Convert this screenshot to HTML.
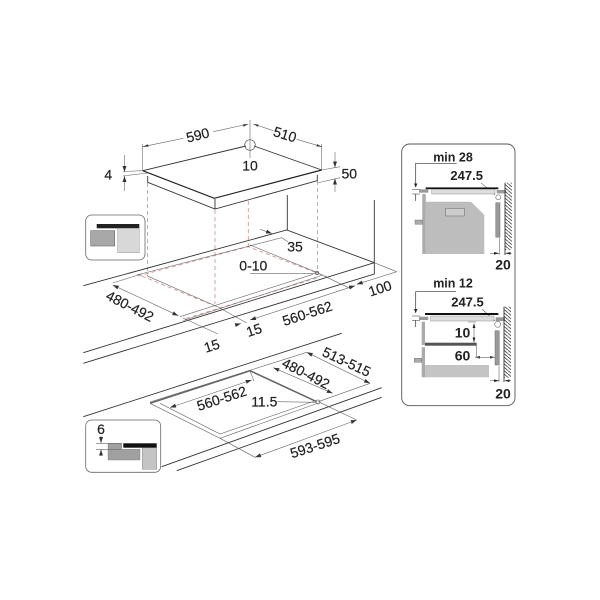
<!DOCTYPE html>
<html><head><meta charset="utf-8"><style>
html,body{margin:0;padding:0;background:#fff}
svg{display:block;width:600px;height:600px;filter:blur(.3px)}
text{font-family:"Liberation Sans",sans-serif;font-size:14px;fill:#222;stroke:#222;stroke-width:.2;text-anchor:middle;dominant-baseline:central}
.b{font-weight:bold;font-size:13px;dominant-baseline:auto;stroke-width:0}
.k{fill:none;stroke:#333;stroke-width:.9}
.t{fill:none;stroke:#666;stroke-width:.6}
.r{fill:none;stroke:#cf8c8c;stroke-width:.8;stroke-dasharray:4 3}
.a{marker-start:url(#s);marker-end:url(#e)}
.e{marker-end:url(#e)}
</style></head><body>
<svg viewBox="0 0 600 600" xmlns="http://www.w3.org/2000/svg">
<defs>
<marker id="e" markerWidth="7" markerHeight="5" refX="6" refY="2.5" orient="auto" markerUnits="userSpaceOnUse"><path d="M0 .5L6 2.5L0 4.5z" fill="#333"/></marker>
<marker id="s" markerWidth="7" markerHeight="5" refX="0" refY="2.5" orient="auto" markerUnits="userSpaceOnUse"><path d="M6 .5L0 2.5L6 4.5z" fill="#333"/></marker>
<pattern id="h" width="4" height="3.4" patternUnits="userSpaceOnUse"><path d="M0 0L4 3.4" stroke="#333" stroke-width=".8"/></pattern>
</defs>
<rect width="600" height="600" fill="#fff"/>

<!-- top hob -->
<path class="k" d="M142.7 170.7L246 146M254 146L321.7 170"/>
<path d="M142.7 170.7L214.3 198.3L321.7 170" fill="none" stroke="#222" stroke-width="1.2"/>
<path class="k" d="M147.7 176V182.3L215 209L317.3 180.7V175M215 199V209"/>
<circle cx="250" cy="145" r="5.3" fill="none" stroke="#555" stroke-width=".7"/>
<path class="t" d="M250 120V158M142.7 144V170M321.7 144V170"/>
<path class="t" d="M142.7 146.7L183.3 138.3M213.3 131.7L248.3 124M253.3 124L273.3 130.7M296.7 139.3L321.7 146.7"/>
<path d="M142.7 146.7L148 144.2L148.6 146.6ZM248.3 124L243 124.4L243.6 126.7ZM253.3 124L258.6 124.6L257.8 126.8ZM321.7 146.7L316.4 146.4L317 144.1Z" fill="#333"/>
<path class="t" d="M123 171.5L142.7 170.7M122.7 176L147.7 173"/>
<path class="t e" d="M124.5 155V172"/>
<path class="t e" d="M124.5 191V176"/>
<path class="t" d="M321.7 170L340 166.7M317.3 183L340 177.7"/>
<path class="t e" d="M335 152V167.5"/>
<path class="t e" d="M335 192V178.5"/>
<text x="197.7" y="135" transform="rotate(-14 197.7 135)">590</text>
<text x="285" y="134.3" transform="rotate(17 285 134.3)">510</text>
<text x="250" y="165.7">10</text>
<text x="108.3" y="174.3">4</text>
<text x="349.3" y="173.3">50</text>

<!-- dashed drops -->
<path class="r" d="M147.6 183V275M215 210V304M248.3 201V246.7M317.5 181V272.7"/>
<path class="r" d="M138 276L248.3 246.7L326.7 276.7M141.7 276L215 306M186 318.5L318.3 277.5"/>

<!-- counter top -->
<path class="k" d="M83.3 285.7L286.7 230L374.3 262.7M83.3 352.7L374.3 262.7M83.3 363.3L374.3 274V200M287.3 195V230"/>
<path class="t" d="M136.7 275L281.7 237.7L288 241.7"/>
<path class="t" d="M146.7 275.7L218 307M218 307L246.7 323M250 245L315 271.7L350 288.3"/>
<path class="t" d="M180 316.7L313 274.3M183.3 320.5L323 275M183 318L218 334M374.3 262.7L396.7 271.7M112.7 283L141.7 274"/>
<path class="t a" d="M112.7 285L178.3 315.7"/>
<path class="t a" d="M250 320L355 285.7"/>
<path class="t a" d="M356.7 284.3L396.7 271.7" style="marker-end:none"/>
<path class="t e" d="M260 229.3L272 233.5"/>
<path class="t e" d="M235.7 325L241 323.5"/>
<path class="t" d="M250 273.7H316.7"/>
<circle cx="317" cy="273" r="1.6" fill="none" stroke="#555" stroke-width=".7"/>
<text x="295" y="246.7">35</text>
<text x="253.3" y="265.7">0-10</text>
<text x="130" y="306" transform="rotate(27 130 306)">480-492</text>
<text x="307.3" y="313.3" transform="rotate(-18 307.3 313.3)">560-562</text>
<text x="380" y="288.3" transform="rotate(-18 380 288.3)">100</text>
<text x="254" y="330" transform="rotate(-18 254 330)">15</text>
<text x="211.7" y="345.7" transform="rotate(-18 211.7 345.7)">15</text>

<!-- lower counter -->
<path class="k" d="M83.3 416.7L341.7 333.3M161.7 466.7L381.7 387.7M176.7 470.7L381.7 397.3"/>
<path class="t" d="M150 403.3L220 438.3L318.3 403M160 403.3L220 434L316 400.5"/>
<path d="M150 403.3L250 370.7L316.7 401.7" fill="none" stroke="#666" stroke-width="1.6"/>
<path class="t" d="M150 402L306.7 352.3M318.3 401.7L370 383.3M220 438.3L255 457.3M318.3 401.7L356.7 420M250 371L254 381"/>
<path class="t a" d="M306.7 352.3L370 383.3"/>
<path class="t a" d="M273.3 367.7L332.7 393.3"/>
<path class="t a" d="M255 457.3L356.7 420"/>
<path class="t a" d="M170 407.5L251.7 380"/>
<path class="t" d="M277.3 401.7L316.7 402.3"/>
<circle cx="318" cy="402" r="2" fill="none" stroke="#777" stroke-width=".8"/>
<text x="346.7" y="361.7" transform="rotate(25 346.7 361.7)">513-515</text>
<text x="306" y="373.3" transform="rotate(27 306 373.3)">480-492</text>
<text x="221.7" y="398.3" transform="rotate(-18 221.7 398.3)">560-562</text>
<text x="264.3" y="401.7">11.5</text>
<text x="315" y="445.7" transform="rotate(-18 315 445.7)">593-595</text>

<!-- inset 1 -->
<rect x="85.7" y="215" width="59.3" height="45" rx="6" fill="#fff" stroke="#666" stroke-width=".8"/>
<rect x="96.7" y="224" width="42.6" height="4.3" fill="#222"/>
<rect x="90.7" y="230.7" width="24" height="15.3" fill="#a8a8a8" stroke="#666" stroke-width=".6"/>
<rect x="117.7" y="228.3" width="21.6" height="24.4" fill="#d8d8d8" stroke="#888" stroke-width=".4"/>

<!-- inset 2 -->
<rect x="85.7" y="420" width="75" height="52.3" rx="6" fill="#fff" stroke="#666" stroke-width=".8"/>
<rect x="123.3" y="443.3" width="33.4" height="4.4" fill="#111"/>
<path d="M108 443.3H121.7V449.3H140V460H108Z" fill="#a0a0a0" stroke="#777" stroke-width=".4"/>
<rect x="142.3" y="447.7" width="14.4" height="21.6" fill="#c4c4c4" stroke="#777" stroke-width=".4"/>
<path class="t" d="M96 443.3H121M96 449.3H121"/>
<path class="t e" d="M101 436V443"/>
<path class="t e" d="M101 456V449.6"/>
<text x="101" y="429">6</text>

<!-- side panel -->
<rect x="401.7" y="144" width="113.3" height="261.7" rx="8" fill="#fff" stroke="#555" stroke-width=".9"/>

<!-- upper section -->
<text class="b" x="453" y="161.7" style="font-size:12.5px">min 28</text>
<path class="k" d="M456.7 163.3H415.7V187" style="stroke-width:.7"/>
<path d="M414 183.5H417.4L415.7 187.5Z" fill="#222"/>
<path class="k" d="M415.7 194V201" style="stroke-width:.7"/>
<path class="k" d="M412 189.3H420M412 194H420" style="stroke-width:.5"/>
<text class="b" x="466.7" y="180">247.5</text>
<path class="t" d="M481 182.7L495 195"/>
<rect x="425.7" y="187.4" width="72.6" height="1.8" fill="#111"/>
<rect x="419" y="189.3" width="9.3" height="3.4" fill="#999"/>
<rect x="496.7" y="190" width="9.3" height="3.4" fill="#999"/>
<rect x="431.7" y="189.3" width="63.3" height="4.7" fill="#ddd" stroke="#777" stroke-width=".4"/>
<circle cx="498.3" cy="197.3" r="2.5" fill="#fff" stroke="#666" stroke-width=".6"/>
<rect x="505" y="182.7" width="7" height="67.3" fill="url(#h)"/>
<path class="k" d="M505 182.7V255"/>
<rect x="495.7" y="202.7" width="4.3" height="34.6" fill="#999" stroke="#555" stroke-width=".4"/>
<rect x="422.3" y="194" width="3.4" height="60" fill="#aaa"/>
<path d="M425.7 201.7H471L484.3 215V254H425.7Z" fill="#bdbdbd"/>
<rect x="445.7" y="208.3" width="18.6" height="7.7" fill="#ccc" stroke="#666" stroke-width=".5"/>
<rect x="415" y="220" width="7.3" height="4.3" fill="#aaa" stroke="#666" stroke-width=".4"/>
<path class="t" d="M499.3 238V255M490 253.3H499M505.7 253.3H511.7"/>
<path d="M499.3 253.3L494 252V254.6ZM505.2 253.3L510.5 252V254.6Z" fill="#222"/>
<text class="b" x="503" y="269.3" style="font-size:14px">20</text>

<!-- lower section -->
<text class="b" x="453" y="287.7" style="font-size:12.5px">min 12</text>
<path class="k" d="M456 291.7H415.7V313" style="stroke-width:.7"/>
<path d="M414 309H417.4L415.7 313Z" fill="#222"/>
<path class="k" d="M415.7 320V327" style="stroke-width:.7"/>
<path class="k" d="M412 316H420M412 320.5H420" style="stroke-width:.5"/>
<text class="b" x="467.5" y="306.7">247.5</text>
<path class="t" d="M482 309L495 321"/>
<rect x="425" y="313" width="73.3" height="2" fill="#111"/>
<rect x="419" y="316.7" width="9.3" height="3.3" fill="#999"/>
<rect x="495.7" y="317.3" width="9.3" height="3.7" fill="#999"/>
<rect x="430.7" y="316" width="63.3" height="5" fill="#ddd" stroke="#777" stroke-width=".4"/>
<circle cx="497.7" cy="324.3" r="3" fill="#fff" stroke="#666" stroke-width=".6"/>
<rect x="504" y="306.7" width="7" height="71.3" fill="url(#h)"/>
<path class="k" d="M504 306.7V382"/>
<rect x="495" y="330.7" width="4.3" height="34.3" fill="#999" stroke="#555" stroke-width=".4"/>
<rect x="421.7" y="321.7" width="3.3" height="23.3" fill="#aaa"/>
<rect x="425" y="342.7" width="51.7" height="3" fill="#555"/>
<rect x="421.7" y="347.3" width="3.3" height="30" fill="#aaa"/>
<rect x="414.3" y="358.3" width="7.4" height="4" fill="#aaa" stroke="#666" stroke-width=".4"/>
<rect x="425" y="365" width="64" height="12.3" fill="#c4c4c4"/>
<text class="b" x="462.5" y="337.7" style="font-size:14px">10</text>
<text class="b" x="462.5" y="360.7" style="font-size:14px">60</text>
<path class="t" d="M474 325V342.5M468 322H476M476.7 345.5V357.3"/>
<path d="M474 323L472.6 328H475.4ZM474 342.5L472.6 337.5H475.4ZM475 357.3L480 356V358.6ZM495 357.3L490 356V358.6Z" fill="#222"/>
<path class="t" d="M475 357.3H495"/>
<path class="t" d="M499 366V382M490 380.7H499M505 380.7H511"/>
<path d="M499 380.7L494 379.4V382ZM504.4 380.7L509.5 379.4V382Z" fill="#222"/>
<text class="b" x="503" y="398.3" style="font-size:14px">20</text>
</svg>
</body></html>
